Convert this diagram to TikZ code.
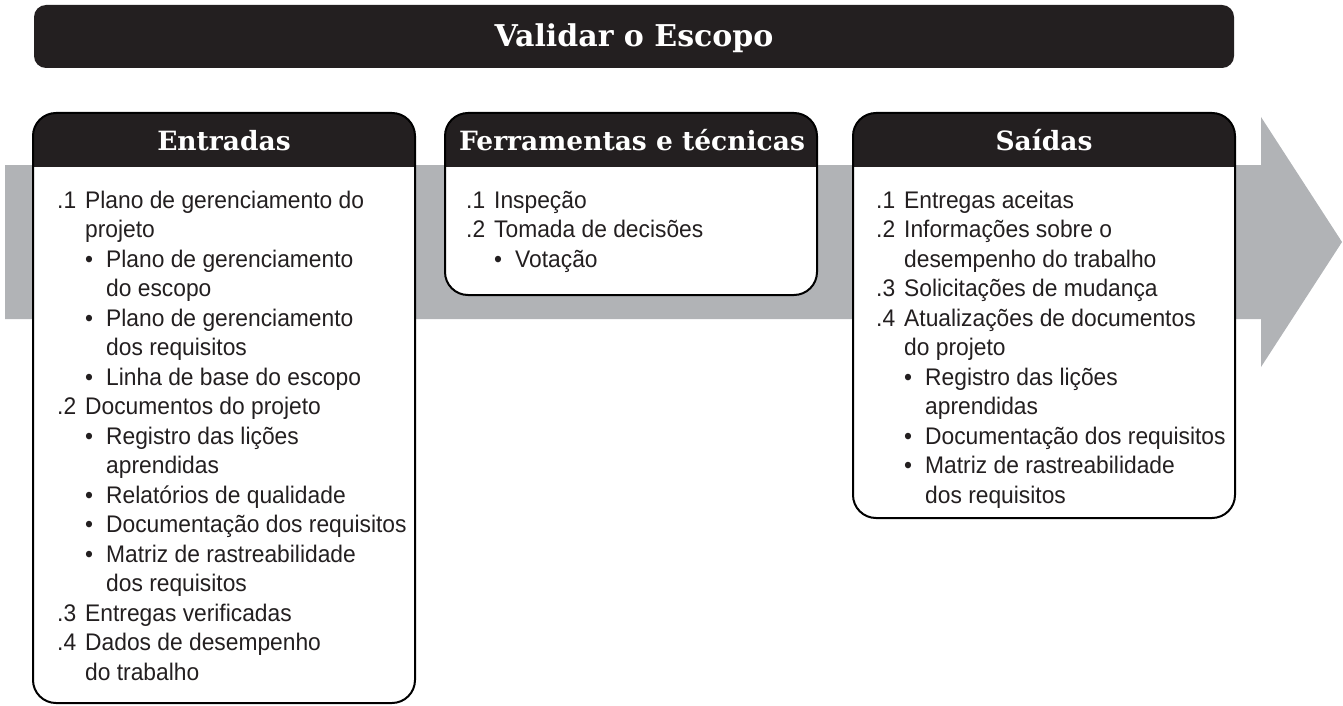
\documentclass[tikz,border=0pt]{standalone}
\usepackage{fontspec}
\newfontfamily\bodyfont{Liberation Sans}[FakeStretch=0.95]
\newfontfamily\headfont{DejaVu Serif}
\definecolor{darkfill}{HTML}{231F20}
\definecolor{bandgray}{HTML}{B1B3B6}
\newcommand\nitem[2]{\makebox[28pt][l]{#1}#2}
\newcommand\ncont[1]{\hspace*{28pt}#1}
\newcommand\bitem[1]{\hspace*{28pt}\makebox[21pt][l]{\textbullet}#1}
\newcommand\bcont[1]{\hspace*{49pt}#1}
\newcommand\bodylist[1]{\parbox[t]{370pt}{\raggedright\bodyfont\fontsize{24}{29.5}\selectfont #1}}
\tikzset{
  boxline/.style={draw=black, line width=2pt},
  headtext/.style={anchor=base, inner sep=0, text=white, font={\headfont\bfseries\fontsize{26.5}{30}\selectfont}},
  titletext/.style={anchor=base, inner sep=0, text=white, font={\headfont\bfseries\fontsize{30}{34}\selectfont}},
  listtext/.style={anchor=base west, inner sep=0, text=darkfill},
}
\newcommand\procbox[4]{% left, right, bottom, name
  \fill[white, rounded corners=23pt] (#1,113) rectangle (#2,#3);
  \begin{scope}
    \clip (#1-3,110) rectangle (#2+3,166);
    \fill[darkfill, rounded corners=23pt] (#1,113) rectangle (#2,#3);
  \end{scope}
  \draw[boxline, rounded corners=23pt] (#1,113) rectangle (#2,#3);
}
\begin{document}
\begin{tikzpicture}[x=1pt,y=-1pt]
\useasboundingbox (0,0) rectangle (1343,706);
% title bar
\fill[darkfill, rounded corners=12pt] (34,5) rectangle (1234,68);
\node[titletext] (title) at (634,47) {Validar o Escopo};
% gray arrow
\fill[bandgray] (5,165) -- (1261,165) -- (1261,117) -- (1342,242) -- (1261,367) -- (1261,319) -- (5,319) -- cycle;
% boxes
\procbox{33}{415}{703}{ent}
\procbox{445}{817}{295}{fer}
\procbox{853}{1235}{518}{sai}
\node[headtext] (hent) at (224,150) {Entradas};
\node[headtext] (hfer) at (632,150) {Ferramentas e técnicas};
\node[headtext] (hsai) at (1044,150) {Saídas};
\node[listtext] (lent) at (57,208) {\bodylist{%
\nitem{.1}{Plano de gerenciamento do}\\
\ncont{projeto}\\
\bitem{Plano de gerenciamento}\\
\bcont{do escopo}\\
\bitem{Plano de gerenciamento}\\
\bcont{dos requisitos}\\
\bitem{Linha de base do escopo}\\
\nitem{.2}{Documentos do projeto}\\
\bitem{Registro das lições}\\
\bcont{aprendidas}\\
\bitem{Relatórios de qualidade}\\
\bitem{Documentação dos requisitos}\\
\bitem{Matriz de rastreabilidade}\\
\bcont{dos requisitos}\\
\nitem{.3}{Entregas verificadas}\\
\nitem{.4}{Dados de desempenho}\\
\ncont{do trabalho}}};
\node[listtext] (lfer) at (466,208) {\bodylist{%
\nitem{.1}{Inspeção}\\
\nitem{.2}{Tomada de decisões}\\
\bitem{Votação}}};
\node[listtext] (lsai) at (876,208) {\bodylist{%
\nitem{.1}{Entregas aceitas}\\
\nitem{.2}{Informações sobre o}\\
\ncont{desempenho do trabalho}\\
\nitem{.3}{Solicitações de mudança}\\
\nitem{.4}{Atualizações de documentos}\\
\ncont{do projeto}\\
\bitem{Registro das lições}\\
\bcont{aprendidas}\\
\bitem{Documentação dos requisitos}\\
\bitem{Matriz de rastreabilidade}\\
\bcont{dos requisitos}}};
\end{tikzpicture}
\end{document}
